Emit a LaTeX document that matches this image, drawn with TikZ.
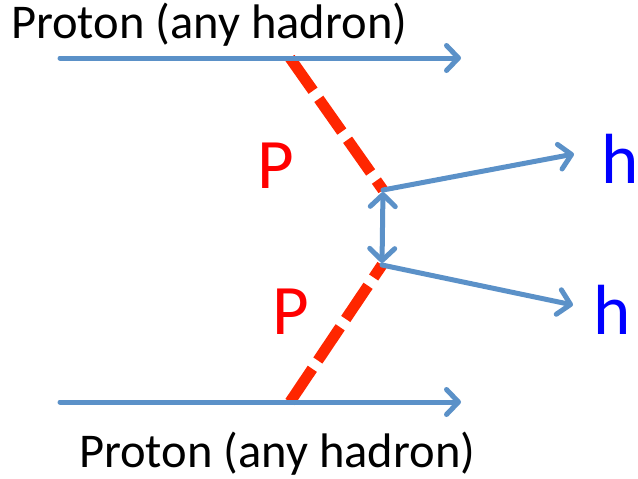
\documentclass[tikz,border=0pt]{standalone}
\usepackage{fontspec}
\setmainfont{Carlito}
\usepackage{tikz}
\usetikzlibrary{arrows.meta, positioning}

\definecolor{beamblue}{RGB}{91,145,200}
\definecolor{pomred}{RGB}{255,38,0}

\begin{document}
\begin{tikzpicture}[x=1pt, y=-1pt,
    beam/.style={draw=beamblue, line width=5pt, line cap=round, line join=round,
        -{Straight Barb[length=12pt, width=25pt, line cap=round, line join=round]}},
    pomeron/.style={draw=pomred, line width=11pt, dash pattern=on 40pt off 10pt},
    label/.style={inner sep=0pt, anchor=base west, font=\fontsize{48.5}{56}\selectfont},
    pom/.style={inner sep=0pt, anchor=base, text=red, font=\fontsize{71}{80}\selectfont},
    had/.style={inner sep=0pt, anchor=base, text=blue, font=\fontsize{71}{80}\selectfont}
]
    \useasboundingbox (0,0) rectangle (638,479);

    % beams
    \coordinate (topin) at (60,58);
    \coordinate (topout) at (461,58);
    \coordinate (botin) at (60,402);
    \coordinate (botout) at (461,402);
    \coordinate (topvx) at (290,58);
    \coordinate (botvx) at (290,402);

    % central vertices
    \coordinate (upvx) at (383,190);
    \coordinate (lowvx) at (382,265);
    \coordinate (uph) at (574,154);
    \coordinate (lowh) at (573,305);

    \node[label] (toptext) at (11,38) {Proton (any hadron)};
    \node[label] (bottext) at (79,467) {Proton (any hadron)};
    \node[pom] (pomup) at (276,188) {P};
    \node[pom] (pomlow) at (291,334) {P};
    \node[had] (hup) at (620,183) {h};
    \node[had] (hlow) at (612,334) {h};

    \draw[pomeron] (topvx) -- (upvx);
    \draw[pomeron] (botvx) -- (lowvx);

    \draw[beam] (topin) -- (topout);
    \draw[beam] (botin) -- (botout);
    \draw[beam] (upvx) -- (uph);
    \draw[beam] (lowvx) -- (lowh);
    \draw[beam, {Straight Barb[length=12pt, width=25pt, line cap=round, line join=round]}-{Straight Barb[length=12pt, width=25pt, line cap=round, line join=round]}, shorten <=2pt, shorten >=2pt] (upvx) -- (lowvx);
\end{tikzpicture}
\end{document}
